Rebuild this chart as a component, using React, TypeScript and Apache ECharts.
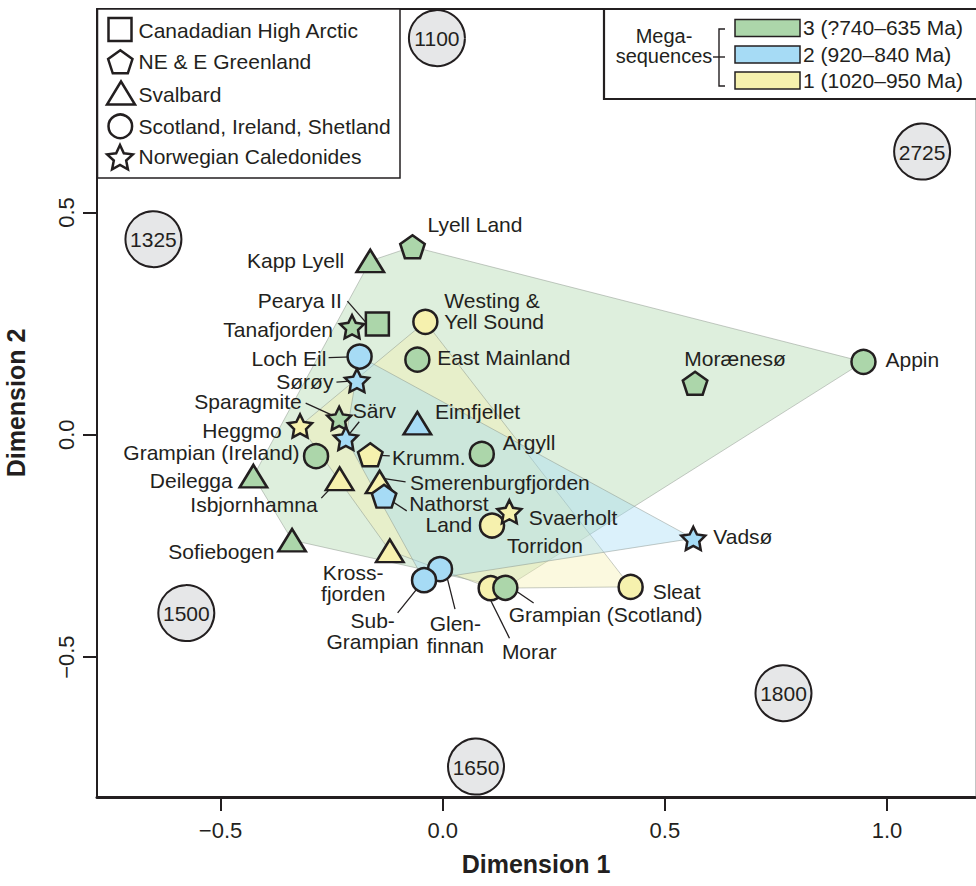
import React, { useEffect, useRef } from "react";
import * as echarts from "echarts";

const FONT = '"Liberation Sans", Arial, Helvetica, sans-serif';
const INK = "#231f20";

// ---- legend / groups ----
const megaLabels = ["3 (?740–635 Ma)", "2 (920–840 Ma)", "1 (1020–950 Ma)"];
const megaIds = [3, 2, 1];
const megaColors = ["#acd6aa", "#a6dbf5", "#f6f1ae"];
const hullOrder = [3, 1, 2];

const regionLabels = [
  "Canadadian High Arctic",
  "NE & E Greenland",
  "Svalbard",
  "Scotland, Ireland, Shetland",
  "Norwegian Caledonides",
];

// ---- samples (drawing order) ----
const sampleNames = [
  "Westing &\nYell Sound", "Heggmo", "Krumm.", "Isbjornhamna", "Smerenburgfjorden",
  "Torridon", "Svaerholt", "Kross-\nfjorden", "Morar", "Sleat",
  "Lyell Land", "Kapp Lyell", "Pearya II", "Tanafjorden", "East Mainland", "Morænesø",
  "Appin", "Sparagmite", "Grampian (Ireland)", "Argyll", "Deilegga", "Sofiebogen",
  "Grampian (Scotland)",
  "Loch Eil", "Sørøy", "Särv", "Eimfjellet", "Nathorst\nLand", "Glen-\nfinnan",
  "Sub-\nGrampian", "Vadsø",
];
// 0 square, 1 pentagon, 2 triangle, 3 circle, 4 star
const sampleRegion = [3, 4, 1, 2, 2, 3, 4, 2, 3, 3, 1, 2, 0, 4, 3, 1, 3, 4, 3, 3, 2, 2, 3, 3, 4, 4, 2, 1, 3, 3, 4];
const sampleMega = [1, 1, 1, 1, 1, 1, 1, 1, 1, 1, 3, 3, 3, 3, 3, 3, 3, 3, 3, 3, 3, 3, 3, 2, 2, 2, 2, 2, 2, 2, 2];
const sampleDim1 = [
  -0.039, -0.321, -0.163, -0.232, -0.142, 0.111, 0.15, -0.119, 0.108, 0.423,
  -0.068, -0.163, -0.147, -0.204, -0.057, 0.568, 0.947, -0.233, -0.285, 0.088, -0.426, -0.339, 0.141,
  -0.187, -0.193, -0.218, -0.057, -0.132, -0.006, -0.042, 0.564,
];
const sampleDim2 = [
  0.254, 0.02, -0.045, -0.099, -0.106, -0.204, -0.173, -0.261, -0.345, -0.342,
  0.423, 0.391, 0.249, 0.243, 0.169, 0.116, 0.164, 0.037, -0.048, -0.043, -0.093, -0.237, -0.344,
  0.176, 0.122, -0.008, 0.026, -0.138, -0.302, -0.327, -0.233,
];

// ---- reference ages ----
const ageLabels = ["1100", "1325", "2725", "1500", "1800", "1650"];
const ageDim1 = [-0.013, -0.651, 1.079, -0.577, 0.767, 0.075];
const ageDim2 = [0.892, 0.44, 0.637, -0.401, -0.581, -0.746];

// ---- axis ticks ----
const xTicks = [-0.5, 0, 0.5, 1.0];
const yTicks = [-0.5, 0, 0.5];
const xRange = [-0.778, 1.198];
const yRange = [-0.8145, 0.9575];

// ---- label layout (pixel offsets from marker) ----
type LL = { dx: number; dy: number; align: "left" | "right" | "center"; lh?: number; leader?: number[] };
const labelLayout: Record<string, LL> = {
  "Lyell Land": { dx: 15, dy: -22, align: "left" },
  "Kapp Lyell": { dx: -26, dy: 0, align: "right" },
  "Pearya II": { dx: -35.5, dy: -24, align: "right", leader: [-30, -23, -10, 0] },
  "Tanafjorden": { dx: -19, dy: 3, align: "right" },
  "East Mainland": { dx: 20, dy: -2, align: "left" },
  "Morænesø": { dx: 40, dy: -25, align: "center" },
  "Appin": { dx: 22, dy: -2, align: "left" },
  "Sparagmite": { dx: -37.5, dy: -16.6, align: "right", leader: [-33.5, -15.3, 0, 0] },
  "Grampian (Ireland)": { dx: -16.5, dy: -3.3, align: "right" },
  "Argyll": { dx: 21, dy: -11, align: "left" },
  "Deilegga": { dx: -20.7, dy: 4, align: "right" },
  "Sofiebogen": { dx: -17.6, dy: 11.7, align: "right" },
  "Grampian (Scotland)": { dx: 3.3, dy: 26.3, align: "left", leader: [28.3, 15.2, 0, -4] },
  "Loch Eil": { dx: -33.3, dy: 2, align: "right", leader: [-31, 1, 0, 0] },
  "Sørøy": { dx: -23.5, dy: 1.3, align: "right", leader: [-20.5, 1.5, 0, 0] },
  "Särv": { dx: 7, dy: -28, align: "left", leader: [13.4, -16.6, 0, 0] },
  "Eimfjellet": { dx: 17.6, dy: -11.6, align: "left" },
  "Nathorst\nLand": { dx: 64.8, dy: 18, align: "center", lh: 21, leader: [22.7, 14.7, 0, 0] },
  "Sub-\nGrampian": { dx: -51.4, dy: 51, align: "center", lh: 21, leader: [-26.4, 32.7, 0, 0] },
  "Glen-\nfinnan": { dx: 15.3, dy: 65, align: "center", lh: 22, leader: [15, 40, 5, 0] },
  "Vadsø": { dx: 20, dy: -1.6, align: "left" },
  "Westing &\nYell Sound": { dx: 19, dy: -11, align: "left", lh: 21 },
  "Heggmo": { dx: -18.3, dy: 4.5, align: "right" },
  "Krumm.": { dx: 21.7, dy: 2.3, align: "left", leader: [19.5, 1, 0, 0] },
  "Isbjornhamna": { dx: -22, dy: 26, align: "right", leader: [-18.3, 19.3, 0, 0] },
  "Smerenburgfjorden": { dx: 30.4, dy: 0.7, align: "left", leader: [26, 0, 0, -4] },
  "Torridon": { dx: 15, dy: 20.4, align: "left" },
  "Svaerholt": { dx: 19.3, dy: 5.6, align: "left" },
  "Kross-\nfjorden": { dx: -36.6, dy: 32, align: "center", lh: 21 },
  "Morar": { dx: 11.2, dy: 63.4, align: "left", leader: [18.8, 50, -6, 0] },
  "Sleat": { dx: 22, dy: 5, align: "left" },
};

const PENTAGON = "path://M50,0L97.55,34.55L79.39,90.45L20.61,90.45L2.45,34.55Z";
const STAR =
  "path://M50,0L64.69,29.78L97.55,34.55L73.78,57.73L79.39,90.45L50,75L20.61,90.45L26.22,57.73L2.45,34.55L35.31,29.78Z";
const regionSymbols = ["rect", PENTAGON, "triangle", "circle", STAR];
const regionSizes: any[] = [[23, 23], [24.5, 23], [27.5, 22.5], [24, 24], [24, 23]];

function megaColor(m: number) {
  return megaColors[megaIds.indexOf(m)];
}
function rgba(hex: string, a: number) {
  const n = parseInt(hex.slice(1), 16);
  return `rgba(${(n >> 16) & 255},${(n >> 8) & 255},${n & 255},${a})`;
}
function convexHull(p: number[][]) {
  const pts = p.slice().sort((a, b) => a[0] - b[0] || a[1] - b[1]);
  const cross = (o: number[], a: number[], b: number[]) =>
    (a[0] - o[0]) * (b[1] - o[1]) - (a[1] - o[1]) * (b[0] - o[0]);
  const lower: number[][] = [];
  for (const q of pts) {
    while (lower.length >= 2 && cross(lower[lower.length - 2], lower[lower.length - 1], q) <= 0) lower.pop();
    lower.push(q);
  }
  const upper: number[][] = [];
  for (let i = pts.length - 1; i >= 0; i--) {
    const q = pts[i];
    while (upper.length >= 2 && cross(upper[upper.length - 2], upper[upper.length - 1], q) <= 0) upper.pop();
    upper.push(q);
  }
  upper.pop();
  lower.pop();
  return lower.concat(upper);
}
function regPoly(cx: number, cy: number, R: number, n: number) {
  const pts = [];
  for (let i = 0; i < n; i++) {
    const a = -Math.PI / 2 + (i * 2 * Math.PI) / n;
    pts.push([cx + R * Math.cos(a), cy + R * Math.sin(a)]);
  }
  return pts;
}
function starPoly(cx: number, cy: number, R: number, r: number) {
  const pts = [];
  for (let i = 0; i < 10; i++) {
    const a = -Math.PI / 2 + (i * Math.PI) / 5;
    const rr = i % 2 === 0 ? R : r;
    pts.push([cx + rr * Math.cos(a), cy + rr * Math.sin(a)]);
  }
  return pts;
}

function buildOption(): any {
  const tickFmt = (v: number) => (v < 0 ? "−" : "") + Math.abs(v).toFixed(1);
  const shapeStyle = { fill: "#fff", stroke: INK, lineWidth: 2.5, lineJoin: "miter" };
  const legendRows = [30, 61.7, 94.3, 126, 156.7];
  const legendShapes: any[] = [
    { type: "rect", shape: { x: 108.5, y: 18, width: 23, height: 23 }, style: shapeStyle },
    { type: "polygon", shape: { points: regPoly(120.3, 63, 12.8, 5) }, style: shapeStyle },
    { type: "polygon", shape: { points: [[121, 81.5], [107, 104.5], [135, 104.5]] }, style: shapeStyle },
    { type: "circle", shape: { cx: 120.3, cy: 126.3, r: 11.8 }, style: shapeStyle },
    { type: "polygon", shape: { points: starPoly(120, 158.5, 13.5, 6.5) }, style: shapeStyle },
  ];
  const graphics: any[] = [
    { type: "rect", shape: { x: 97.5, y: 9, width: 302.5, height: 169 }, style: { fill: "#fff", stroke: INK, lineWidth: 1.5 }, z: 20 },
    ...legendShapes.map((s) => ({ ...s, z: 21 })),
    ...regionLabels.map((t, i) => ({
      type: "text", x: 138.5, y: legendRows[i], z: 21,
      style: { text: t, fill: INK, fontSize: 21, fontFamily: FONT, verticalAlign: "middle", align: "left" },
    })),
    { type: "rect", shape: { x: 604, y: 9, width: 380, height: 90 }, style: { fill: "#fff", stroke: INK, lineWidth: 2.2 }, z: 20 },
    {
      type: "text", x: 664, y: 45.7, z: 21,
      style: { text: "Mega-\nsequences", fill: INK, fontSize: 20, fontFamily: FONT, align: "center", verticalAlign: "middle", lineHeight: 20 },
    },
    { type: "polyline", shape: { points: [[725, 29], [719, 29], [719, 86], [725, 86]] }, style: { stroke: INK, lineWidth: 1.4, fill: null }, z: 21 },
    { type: "line", shape: { x1: 713, y1: 57, x2: 725, y2: 57 }, style: { stroke: INK, lineWidth: 1.4 }, z: 21 },
    ...megaLabels.flatMap((t, i) => [
      { type: "rect", shape: { x: 735, y: [19.5, 46, 72][i], width: 65, height: 17 }, style: { fill: megaColors[i], stroke: INK, lineWidth: 1.5 }, z: 21 },
      {
        type: "text", x: 803, y: [27.7, 54.7, 80.5][i], z: 21,
        style: { text: t, fill: INK, fontSize: 21, fontFamily: FONT, verticalAlign: "middle", align: "left" },
      },
    ]),
  ];

  const sampleData = sampleNames.map((n, i) => ({
    name: n,
    value: [sampleDim1[i], sampleDim2[i]],
    symbol: regionSymbols[sampleRegion[i]],
    symbolSize: regionSizes[sampleRegion[i]],
    itemStyle: { color: megaColor(sampleMega[i]) },
  }));

  return {
    animation: false,
    backgroundColor: "#fff",
    textStyle: { fontFamily: FONT },
    grid: { left: 97, right: 1, top: 9, bottom: 89, outerBoundsMode: "none", containLabel: false },
    xAxis: [
      {
        type: "value", position: "bottom", min: xRange[0], max: xRange[1],
        axisLine: { show: true, onZero: false, lineStyle: { color: INK, width: 3 } },
        axisTick: { show: true, length: 14, customValues: xTicks, lineStyle: { color: INK, width: 2 } },
        axisLabel: { customValues: xTicks, formatter: tickFmt, fontSize: 22, color: INK, margin: 22, fontFamily: FONT },
        splitLine: { show: false },
        name: "Dimension 1", nameLocation: "middle", nameGap: 54, nameMoveOverlap: false,
        nameTextStyle: { fontSize: 25, fontWeight: "bold", color: INK, fontFamily: FONT },
      },
      {
        type: "value", position: "top", min: xRange[0], max: xRange[1],
        axisLine: { show: true, onZero: false, lineStyle: { color: INK, width: 2 } },
        axisTick: { show: false }, axisLabel: { show: false }, splitLine: { show: false },
      },
    ],
    yAxis: [
      {
        type: "value", position: "left", min: yRange[0], max: yRange[1],
        axisLine: { show: true, onZero: false, lineStyle: { color: INK, width: 2 } },
        axisTick: { show: true, length: 14, customValues: yTicks, lineStyle: { color: INK, width: 2 } },
        axisLabel: { customValues: yTicks, formatter: tickFmt, fontSize: 22, color: INK, margin: 20, rotate: 90, fontFamily: FONT },
        splitLine: { show: false },
        name: "Dimension 2", nameLocation: "middle", nameGap: 69, nameMoveOverlap: false,
        nameTextStyle: { fontSize: 25, fontWeight: "bold", color: INK, fontFamily: FONT },
      },
      {
        type: "value", position: "right", min: yRange[0], max: yRange[1],
        axisLine: { show: true, onZero: false, lineStyle: { color: "#c4c4c4", width: 1 } },
        axisTick: { show: false }, axisLabel: { show: false }, splitLine: { show: false },
      },
    ],
    graphic: graphics,
    series: [
      {
        type: "custom",
        z: 1,
        silent: true,
        data: hullOrder.map((g) => {
          const i = sampleMega.indexOf(g);
          return [sampleDim1[i], sampleDim2[i], g];
        }),
        renderItem: (params: any, api: any) => {
          const g = api.value(2);
          const pts: number[][] = [];
          sampleMega.forEach((m, i) => {
            if (m === g) pts.push(api.coord([sampleDim1[i], sampleDim2[i]]));
          });
          return {
            type: "polygon",
            shape: { points: convexHull(pts) },
            style: { fill: rgba(megaColor(g), 0.4), stroke: "rgba(130,140,130,0.45)", lineWidth: 1 },
          };
        },
      },
      {
        type: "custom",
        z: 2,
        silent: true,
        data: ageLabels.map((t, i) => [ageDim1[i], ageDim2[i], i]),
        renderItem: (params: any, api: any) => {
          const i = api.value(2);
          const [x, y] = api.coord([api.value(0), api.value(1)]);
          return {
            type: "group",
            children: [
              { type: "circle", shape: { cx: x, cy: y, r: 28 }, style: { fill: "#e6e7e8", stroke: INK, lineWidth: 2 } },
              {
                type: "text", x: x, y: y + 0.5,
                style: { text: ageLabels[i], fill: INK, fontSize: 21, fontFamily: FONT, align: "center", verticalAlign: "middle" },
              },
            ],
          };
        },
      },
      {
        type: "custom",
        z: 3,
        silent: true,
        data: sampleNames.map((n, i) => [sampleDim1[i], sampleDim2[i], i]),
        renderItem: (params: any, api: any) => {
          const i = api.value(2);
          const L = labelLayout[sampleNames[i]];
          if (!L || !L.leader) return null;
          const [x, y] = api.coord([api.value(0), api.value(1)]);
          const l = L.leader;
          return {
            type: "line",
            shape: { x1: x + l[0], y1: y + l[1], x2: x + l[2], y2: y + l[3] },
            style: { stroke: INK, lineWidth: 1.3 },
          };
        },
      },
      {
        type: "scatter",
        z: 4,
        silent: true,
        clip: false,
        data: sampleData,
        itemStyle: { borderColor: INK, borderWidth: 2.5, borderJoin: "miter", opacity: 1 },
      },
      {
        type: "custom",
        z: 5,
        silent: true,
        data: sampleNames.map((n, i) => [sampleDim1[i], sampleDim2[i], i]),
        renderItem: (params: any, api: any) => {
          const i = api.value(2);
          const name = sampleNames[i];
          const L = labelLayout[name];
          const [x, y] = api.coord([api.value(0), api.value(1)]);
          return {
            type: "text",
            x: x + L.dx,
            y: y + L.dy,
            style: {
              text: name,
              fill: INK,
              fontSize: 21,
              fontFamily: FONT,
              align: L.align,
              verticalAlign: "middle",
              lineHeight: L.lh || 21,
            },
          };
        },
      },
    ],
  };
}

export default function App() {
  const ref = useRef<HTMLDivElement>(null);
  useEffect(() => {
    document.body.style.margin = "0";
    const chart = echarts.init(ref.current!, null, { renderer: "svg" });
    chart.setOption(buildOption());
    return () => chart.dispose();
  }, []);
  return <div ref={ref} style={{ width: 976, height: 886, position: "absolute", left: 0, top: 0 }} />;
}
